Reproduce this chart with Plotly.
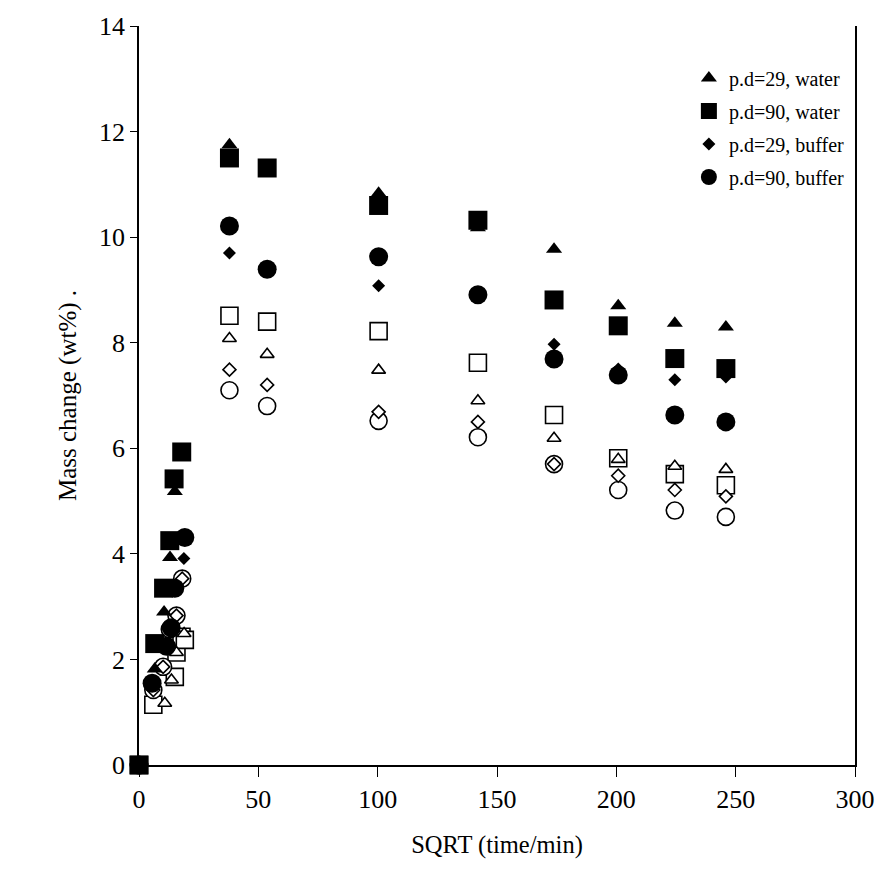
import plotly.graph_objects as go

# ---- data (x = SQRT(time/min), y = mass change wt%) ----
X_LATE = [37.9, 53.7, 100.4, 142.0, 173.9, 200.8, 224.5, 245.9]

pd29_water_x = [0, 6.6, 10.5, 13.0, 15.0] + X_LATE
pd29_water_y = [0, 1.82, 2.90, 3.93, 5.18, 11.75, 11.33, 10.83, 10.18, 9.77, 8.70, 8.37, 8.30]

pd90_water_x = [0, 6.6, 10.3, 12.9, 14.7, 17.9] + X_LATE
pd90_water_y = [0, 2.30, 3.35, 4.25, 5.42, 5.93, 11.50, 11.31, 10.60, 10.32, 8.81, 8.32, 7.70, 7.51]

pd29_buffer_x = [0, 6.0, 10.5, 13.5, 15.5, 18.8] + X_LATE
pd29_buffer_y = [0, 1.60, 2.20, 2.55, 3.30, 3.91, 9.70, 9.45, 9.08, 8.95, 7.97, 7.50, 7.30, 7.35]

pd90_buffer_x = [0, 5.5, 11.5, 13.5, 15.0, 19.2] + X_LATE
pd90_buffer_y = [0, 1.55, 2.25, 2.60, 3.35, 4.31, 10.21, 9.39, 9.63, 8.91, 7.69, 7.39, 6.63, 6.50]

# open-marker series (not in legend)
o29_water_x = [0, 10.8, 13.6, 15.7, 18.9] + X_LATE
o29_water_y = [0, 1.17, 1.61, 2.13, 2.49, 8.08, 7.78, 7.48, 6.90, 6.19, 5.79, 5.66, 5.60]

o90_water_x = [0, 6.0, 15.0, 15.7, 17.8, 19.2] + X_LATE
o90_water_y = [0, 1.14, 1.67, 2.13, 2.43, 2.37, 8.51, 8.40, 8.22, 7.62, 6.63, 5.81, 5.51, 5.30]

o29_buffer_x = [0, 6.0, 10.1, 12.9, 15.7, 18.1] + X_LATE
o29_buffer_y = [0, 1.42, 1.86, 2.57, 2.83, 3.53, 7.49, 7.20, 6.69, 6.50, 5.70, 5.48, 5.21, 5.09]

o90_buffer_x = [0, 6.0, 10.1, 12.9, 15.7, 18.1] + X_LATE
o90_buffer_y = [0, 1.42, 1.86, 2.57, 2.83, 3.53, 7.10, 6.80, 6.52, 6.21, 5.70, 5.21, 4.82, 4.70]

X_TICKS = [0, 50, 100, 150, 200, 250, 300]
Y_TICKS = [0, 2, 4, 6, 8, 10, 12, 14]

FONT = "Liberation Serif, Times New Roman, serif"

fig = go.Figure()

def add(x, y, name, symbol, size, fill, legend):
    fig.add_trace(go.Scatter(
        x=x, y=y, mode="markers", name=name, showlegend=legend,
        legendgroup=name, cliponaxis=False,
        marker=dict(symbol=symbol, size=size, color=fill,
                    line=dict(color="black", width=1.6 if fill == "white" else 0)),
    ))

# open series first (drawn beneath)
add(o90_water_x, o90_water_y, "p.d=90, water (open)", "square", 17, "white", False)
add(o29_water_x, o29_water_y, "p.d=29, water (open)", "triangle-up", 12, "white", False)
add(o90_buffer_x, o90_buffer_y, "p.d=90, buffer (open)", "circle", 17, "white", False)
add(o29_buffer_x, o29_buffer_y, "p.d=29, buffer (open)", "diamond", 10, "white", False)

add(pd29_water_x, pd29_water_y, "p.d=29, water", "triangle-up", 14, "black", True)
add(pd90_water_x, pd90_water_y, "p.d=90, water", "square", 19, "black", True)
add(pd29_buffer_x, pd29_buffer_y, "p.d=29, buffer", "diamond", 10, "black", True)
add(pd90_buffer_x, pd90_buffer_y, "p.d=90, buffer", "circle", 19, "black", True)

fig.update_layout(
    width=886, height=890,
    margin=dict(l=139, r=31, t=26, b=125),
    paper_bgcolor="white", plot_bgcolor="white",
    font=dict(family=FONT, size=25, color="black"),
    showlegend=True,
    legend=dict(
        x=0.768, y=0.956, xanchor="left", yanchor="top",
        bgcolor="rgba(0,0,0,0)", borderwidth=0,
        font=dict(family=FONT, size=20, color="black"),
        traceorder="grouped", tracegroupgap=4, itemwidth=30,
    ),
    xaxis=dict(
        range=[0, 300], tickvals=X_TICKS, ticktext=[str(v) for v in X_TICKS],
        tickfont=dict(size=26),
        showgrid=False, zeroline=False, showline=True, linecolor="black", linewidth=1.5,
        ticks="outside", ticklen=10, tickwidth=1.2, tickcolor="black",
        title=dict(text="SQRT (time/min)", standoff=23, font=dict(size=24.5)),
        layer="below traces",
    ),
    yaxis=dict(
        range=[0, 14], tickvals=Y_TICKS, ticktext=[str(v) for v in Y_TICKS],
        tickfont=dict(size=26),
        showgrid=False, zeroline=False, showline=True, linecolor="black", linewidth=1.5,
        mirror=True,
        ticks="outside", ticklen=7, tickwidth=1.2, tickcolor="black",
        title=dict(text="Mass change (wt%) .", standoff=15, font=dict(size=25)),
        layer="below traces",
    ),
)

fig.write_html("out.html")
